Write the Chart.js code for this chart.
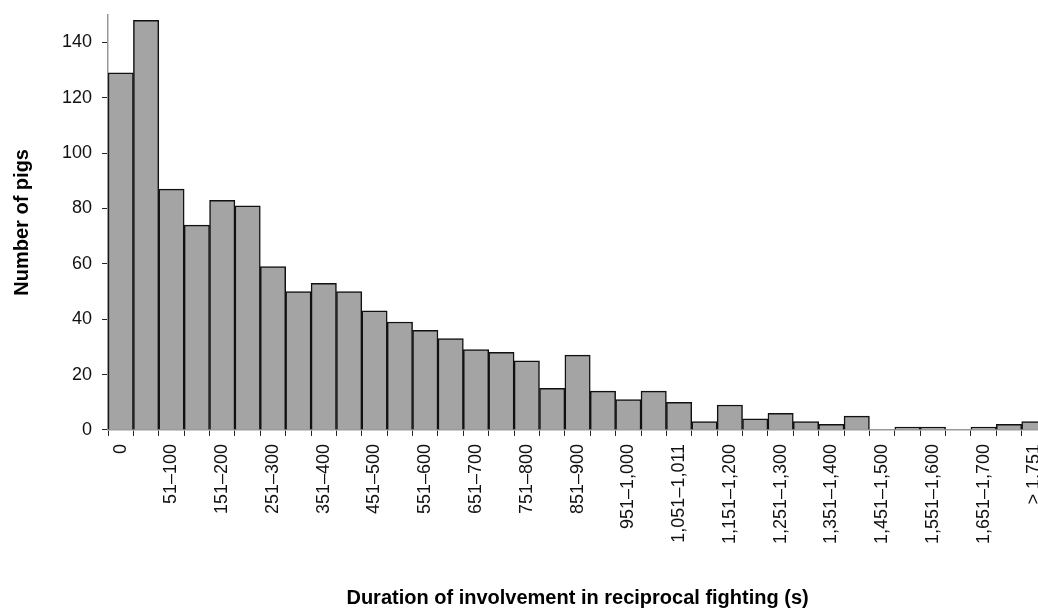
<!DOCTYPE html>
<html>
<head>
<meta charset="utf-8">
<script src="https://cdn.jsdelivr.net/npm/chart.js@4.4.1/dist/chart.umd.min.js"></script>
<style>
  html, body { margin: 0; padding: 0; background: #fff; overflow: hidden; }
  #wrap { width: 1064px; height: 616px; margin-top: -6px; position: relative; }
</style>
</head>
<body>
<div id="wrap"><canvas id="myChart"></canvas></div>
<script>
// duration bins (s); only every other label is printed on the axis
const bins = [
  "0", "1–50", "51–100", "101–150", "151–200", "201–250", "251–300",
  "301–350", "351–400", "401–450", "451–500", "501–550", "551–600",
  "601–650", "651–700", "701–750", "751–800", "801–850", "851–900",
  "901–950", "951–1,000", "1,001–1,050", "1,051–1,011", "1,101–1,150",
  "1,151–1,200", "1,201–1,250", "1,251–1,300", "1,301–1,350", "1,351–1,400",
  "1,401–1,450", "1,451–1,500", "1,501–1,550", "1,551–1,600", "1,601–1,650",
  "1,651–1,700", "1,701–1,750", "> 1,751"
];

const pigs = [
  129, 148, 87, 74, 83, 81, 59, 50, 53, 50, 43, 39, 36, 33, 29, 28, 25, 15,
  27, 14, 11, 14, 10, 3, 9, 4, 6, 3, 2, 5, 0, 1, 1, 0, 1, 2, 3
];

const yTicks = [0, 20, 40, 60, 80, 100, 120, 140];

const fontFamily = "'Liberation Sans', Arial, sans-serif";

let ctx = document.getElementById("myChart").getContext("2d");

let myChart = new Chart(ctx, {
  type: "bar",
  data: {
    labels: bins,
    datasets: [
      {
        label: "Number of pigs",
        data: pigs,
        backgroundColor: "#a4a4a4",
        borderColor: "#111",
        borderWidth: 1.5,
        borderSkipped: "bottom",
        barPercentage: 1,
        categoryPercentage: 1,
      },
    ],
  },
  options: {
    responsive: true,
    maintainAspectRatio: false,
    animation: false,
    layout: { padding: { left: 10, top: 2, right: 0, bottom: 0 } },
    plugins: {
      legend: { display: false },
      tooltip: { enabled: false },
    },
    scales: {
      x: {
        offset: true,
        grid: {
          offset: true,
          drawOnChartArea: false,
          tickLength: 6,
          color: "#222",
        },
        border: { color: "#999", width: 1.5 },
        ticks: {
          autoSkip: false,
          minRotation: 90,
          maxRotation: 90,
          padding: 8,
          color: "#111",
          font: { family: fontFamily, size: 18 },
          callback: function (value, index) {
            return index % 2 === 0 ? this.getLabelForValue(value) : "";
          },
        },
        title: {
          display: true,
          text: "Duration of involvement in reciprocal fighting (s)",
          color: "#000",
          font: { family: fontFamily, size: 20, weight: "bold" },
          padding: { top: 34, bottom: 0 },
        },
      },
      y: {
        min: 0,
        max: 150,
        afterBuildTicks: (scale) => {
          scale.ticks = yTicks.map((v) => ({ value: v }));
        },
        grid: {
          drawOnChartArea: false,
          tickLength: 6,
          color: "#222",
        },
        border: { color: "#999", width: 1.5 },
        ticks: {
          padding: 10,
          color: "#111",
          font: { family: fontFamily, size: 18 },
        },
        title: {
          display: true,
          text: "Number of pigs",
          color: "#000",
          font: { family: fontFamily, size: 20, weight: "bold" },
          padding: { top: 0, bottom: 18 },
        },
      },
    },
  },
});
</script>
</body>
</html>
